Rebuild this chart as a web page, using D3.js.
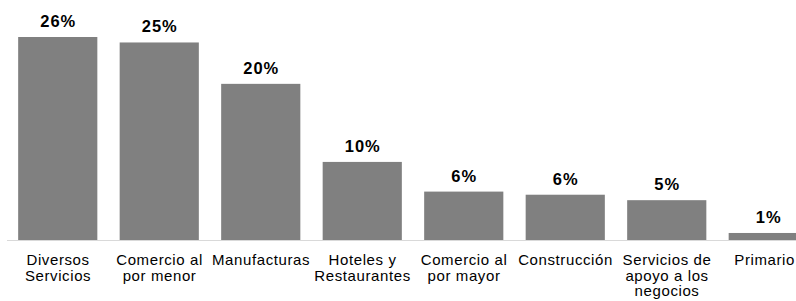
<!DOCTYPE html>
<html>
<head>
<meta charset="utf-8">
<script src="https://cdn.jsdelivr.net/npm/d3@7"></script>
<style>
  body { margin: 0; background: #fff; }
  svg { display: block; font-family: "Liberation Sans", Arial, sans-serif; }
</style>
</head>
<body>
<div id="chart"></div>
<script>
// data
const categories = [
  ["Diversos", "Servicios"],
  ["Comercio al", "por menor"],
  ["Manufacturas"],
  ["Hoteles y", "Restaurantes"],
  ["Comercio al", "por mayor"],
  ["Construcción"],
  ["Servicios de", "apoyo a los", "negocios"],
  ["Primario"]
];
const values = [26.0, 25.3, 20.0, 10.0, 6.2, 5.8, 5.1, 0.9];
const valueLabels = ["26%", "25%", "20%", "10%", "6%", "6%", "5%", "1%"];

const width = 796, height = 301;
const baseline = 240;

const svg = d3.select("#chart")
  .append("svg")
  .attr("width", width)
  .attr("height", height);

const x = d3.scaleBand()
  .domain(d3.range(categories.length))
  .range([7, 819])
  .paddingInner(0.22)
  .paddingOuter(0.11);

const y = d3.scaleLinear()
  .domain([0, 26])
  .range([baseline, 37]);

// bars
svg.selectAll("rect.bar")
  .data(values)
  .enter()
  .append("rect")
  .attr("class", "bar")
  .attr("x", (d, i) => x(i))
  .attr("y", d => y(d))
  .attr("width", x.bandwidth())
  .attr("height", d => baseline - y(d))
  .attr("fill", "#808080");

// axis line
svg.append("line")
  .attr("x1", 7).attr("x2", width)
  .attr("y1", baseline + 0.5).attr("y2", baseline + 0.5)
  .attr("stroke", "#d9d9d9")
  .attr("stroke-width", 1);

// value labels
svg.selectAll("text.val")
  .data(values)
  .enter()
  .append("text")
  .attr("class", "val")
  .attr("x", (d, i) => x(i) + x.bandwidth() / 2 + 0.5)
  .attr("y", d => y(d) - 10)
  .attr("text-anchor", "middle")
  .style("font-size", "16.5px")
  .style("font-weight", "bold")
  .style("letter-spacing", "1px")
  .attr("fill", "#000")
  .text((d, i) => valueLabels[i]);

// category labels
const cat = svg.selectAll("text.cat")
  .data(categories)
  .enter()
  .append("text")
  .attr("class", "cat")
  .attr("x", (d, i) => x(i) + x.bandwidth() / 2 + 0.3)
  .attr("y", 265)
  .attr("text-anchor", "middle")
  .style("font-size", "15px")
  .style("letter-spacing", "0.6px")
  .attr("fill", "#000");

cat.selectAll("tspan")
  .data(d => d)
  .enter()
  .append("tspan")
  .attr("x", function () { return d3.select(this.parentNode).attr("x"); })
  .attr("dy", (d, j) => j === 0 ? 0 : 15.5)
  .text(d => d);

// keep the last label inside the window
cat.each(function () {
  const t = d3.select(this);
  const box = this.getBBox();
  const over = box.x + box.width - (width - 1);
  if (over > 0) {
    const nx = +t.attr("x") - over;
    t.attr("x", nx);
    t.selectAll("tspan").attr("x", nx);
  }
});
</script>
</body>
</html>
